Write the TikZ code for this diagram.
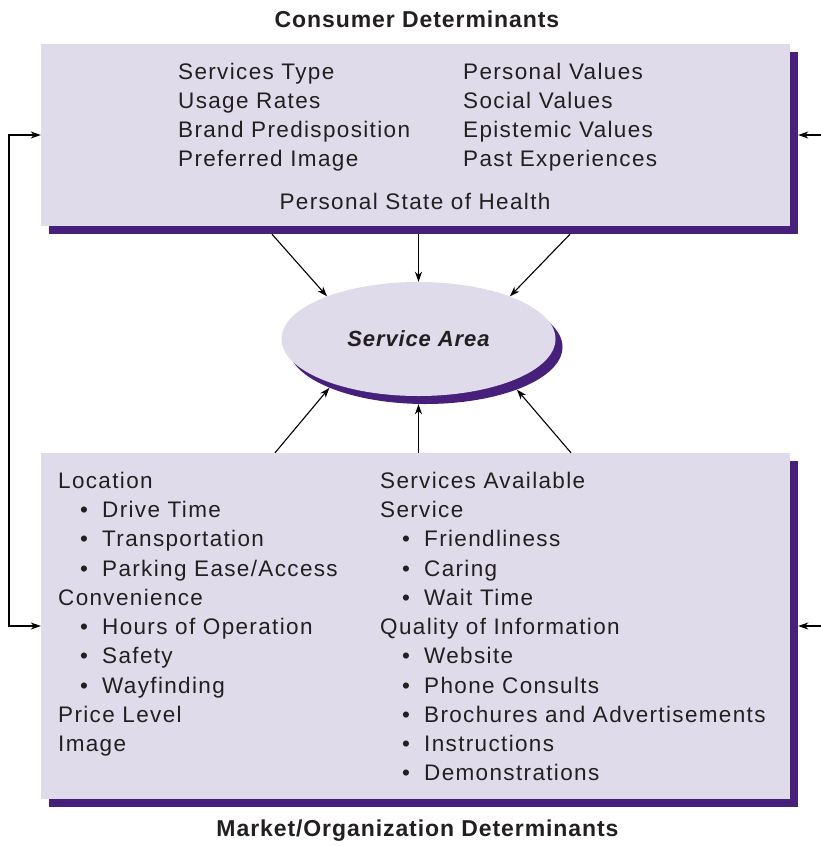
\documentclass[tikz,border=0pt]{standalone}
\usepackage{fontspec}
\setmainfont{Liberation Sans}
\newfontfamily\bodyface{Liberation Sans}[LetterSpace=6]
\newfontfamily\headface{Liberation Sans}[LetterSpace=4]
\usetikzlibrary{arrows.meta,shapes.geometric,calc}

\definecolor{lavender}{RGB}{223,219,234}
\definecolor{plum}{RGB}{71,32,123}
\definecolor{ink}{RGB}{35,31,32}

\newcommand\cdbody{\bodyface\fontsize{22.5pt}{29.25pt}\selectfont}
\newcommand\cdhead{\headface\bfseries\fontsize{23pt}{27pt}\selectfont}
\newcommand\cdoval{\headface\bfseries\itshape\fontsize{22pt}{26pt}\selectfont}
% bullet followed by a fixed indent
\newcommand\bul{\makebox[22pt][l]{\textbullet}}

\begin{document}
\begin{tikzpicture}[x=1pt,y=-1pt,
  body/.style={font=\cdbody, text=ink, inner sep=0pt, anchor=base west},
  head/.style={font=\cdhead, text=ink, inner sep=0pt},
  panel/.style={rectangle, fill=lavender, inner sep=0pt, minimum width=749pt},
  panelshade/.style={panel, fill=plum},
  oval/.style={ellipse, fill=lavender, inner sep=0pt, minimum width=274pt, minimum height=114pt},
  ovalshade/.style={oval, fill=plum},
  link/.style={draw=black, line width=1.1pt, -{Stealth[length=10pt,width=7pt,inset=3pt]}},
  loop/.style={draw=black, line width=1.1pt, {Stealth[length=10pt,width=7pt,inset=3pt]}-{Stealth[length=10pt,width=7pt,inset=3pt]}},
]
\useasboundingbox (0,0) rectangle (821,846);

% titles
\node[head] (toptitle) at (417,19) {Consumer Determinants};
\node[head] (bottitle) at (417.5,831) {Market/Organization Determinants};

% panels with offset shading
\node[panelshade, minimum height=182pt] (topsh) at (423.5,143) {};
\node[panel, minimum height=182pt] (top) at (415.5,135) {};
\node[panelshade, minimum height=346pt] (botsh) at (423.5,634) {};
\node[panel, minimum height=346pt] (bot) at (415.5,626) {};

% consumer determinants
\foreach \t [count=\i from 0] in {Services Type, Usage Rates, Brand Predisposition, Preferred Image}
  \node[body] (ca\i) at (178,{79+29.25*\i}) {\t};
\foreach \t [count=\i from 0] in {Personal Values, Social Values, Epistemic Values, Past Experiences}
  \node[body] (cb\i) at (463,{79+29.25*\i}) {\t};
\node[body, anchor=base] (health) at (415,209.5) {Personal State of Health};

% market/organization determinants
\foreach \t [count=\i from 0] in {Location, \bul Drive Time, \bul Transportation, \bul Parking Ease/Access,
    Convenience, \bul Hours of Operation, \bul Safety, \bul Wayfinding, Price Level, Image}
  \node[body] (ma\i) at ({\ifnum\i=0 58\else\ifnum\i=4 58\else\ifnum\i>7 58\else 80\fi\fi\fi},{488.3+29.25*\i}) {\t};
\foreach \t [count=\i from 0] in {Services Available, Service, \bul Friendliness, \bul Caring, \bul Wait Time,
    Quality of Information, \bul Website, \bul Phone Consults, \bul Brochures and Advertisements,
    \bul Instructions, \bul Demonstrations}
  \node[body] (mb\i) at ({\ifnum\i<2 380\else\ifnum\i=5 380\else 402\fi\fi},{488.3+29.25*\i}) {\t};

% service area
\node[ovalshade] (areash) at (425.5,347) {};
\node[oval, font=\cdoval, text=ink] (area) at (418.5,339) {Service Area};

% influences on the service area
\draw[link] ($(topsh.south)+(-151.5,0)$) -- (area.155);
\draw[link] (area.north |- topsh.south) -- (area.north);
\draw[link] ($(topsh.south)+(146.5,0)$) -- (area.25);
\draw[link] ($(bot.north)+(-140.5,0)$) -- (areash.203);
\draw[link] (area.south |- bot.north) -- (area.south |- areash.south);
\draw[link] ($(bot.north)+(155.5,0)$) -- (areash.-25);

% feedback paths
\coordinate (fb) at (9,0);
\coordinate (edge) at (821,0);
\draw[loop] (top.west) -- (top.west -| fb) -- (bot.west -| fb) -- (bot.west);
\draw[link] (top.east -| edge) -- (top.east -| topsh.east);
\draw[link] (bot.east -| edge) -- (bot.east -| botsh.east);
\end{tikzpicture}
\end{document}
